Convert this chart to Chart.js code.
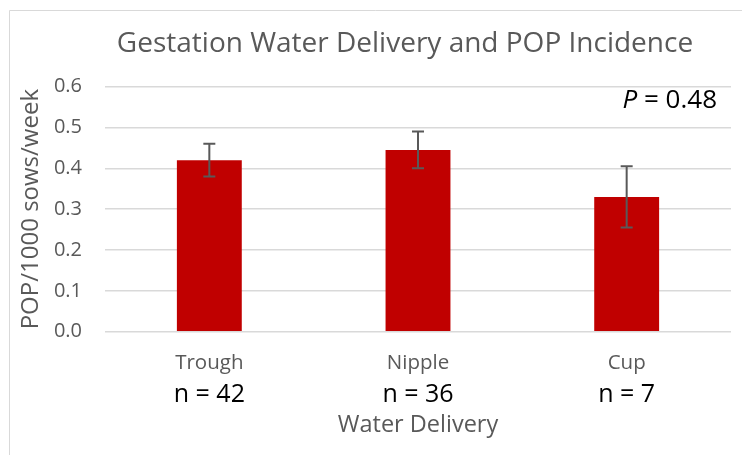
<!DOCTYPE html>
<html>
<head>
<meta charset="utf-8">
<script src="https://cdn.jsdelivr.net/npm/chart.js@4"></script>
<style>
html, body { margin: 0; padding: 0; background: #fff; }
#wrap { width: 742px; height: 455px; position: relative; }
</style>
</head>
<body>
<div id="wrap"><canvas id="myChart"></canvas></div>
<script>
// data
const categories = ["Trough", "Nipple", "Cup"]
const sampleSizes = ["n = 42", "n = 36", "n = 7"]
const popValues = [0.42, 0.445, 0.33]
const popErrors = [0.04, 0.045, 0.075]
const yTicks = [0, 0.1, 0.2, 0.3, 0.4, 0.5, 0.6]
const pValue = "0.48"
const chartTitle = "Gestation Water Delivery and POP Incidence"

const FONT = "'Open Sans', sans-serif"
const GREY = "#595959"
// the exported chart is wider than the crop, its frame starts at x=9
const FRAME_LEFT = 9
const FRAME_WIDTH = 792

// light frame at the top/left like the exported chart
const frame = {
    id: "frame",
    beforeDraw(chart) {
        const c = chart.ctx
        c.save()
        c.fillStyle = "#fff"
        c.fillRect(0, 0, chart.width, chart.height)
        c.strokeStyle = "#d9d9d9"
        c.lineWidth = 1
        c.beginPath()
        c.moveTo(FRAME_LEFT + 0.5, chart.height)
        c.lineTo(FRAME_LEFT + 0.5, 10.5)
        c.lineTo(chart.width, 10.5)
        c.stroke()
        c.restore()
    },
    afterDraw(chart) {
        // title centred on the full (uncropped) chart frame
        const c = chart.ctx
        c.save()
        c.fillStyle = GREY
        c.font = "28px " + FONT
        c.textAlign = "center"
        c.textBaseline = "middle"
        c.fillText(chartTitle, FRAME_LEFT + FRAME_WIDTH / 2, 43.8)
        c.restore()
    }
}

const errorBars = {
    id: "errorBars",
    afterDatasetsDraw(chart) {
        const c = chart.ctx
        const y = chart.scales.y
        const meta = chart.getDatasetMeta(0)
        c.save()
        c.strokeStyle = GREY
        c.lineWidth = 2
        meta.data.forEach((bar, i) => {
            const top = y.getPixelForValue(popValues[i] + popErrors[i])
            const bot = y.getPixelForValue(popValues[i] - popErrors[i])
            c.beginPath()
            c.moveTo(bar.x, top); c.lineTo(bar.x, bot)
            c.moveTo(bar.x - 6, top); c.lineTo(bar.x + 6, top)
            c.moveTo(bar.x - 6, bot); c.lineTo(bar.x + 6, bot)
            c.stroke()
        })
        c.restore()
    }
}

const pLabel = {
    id: "pLabel",
    afterDraw(chart) {
        const c = chart.ctx
        const a = chart.chartArea
        const y = chart.scales.y
        const rest = " = " + pValue
        c.save()
        c.fillStyle = "#000"
        c.textBaseline = "middle"
        c.textAlign = "left"
        c.font = "26px " + FONT
        const w2 = c.measureText(rest).width
        c.font = "italic 26px " + FONT
        const w1 = c.measureText("P").width
        const x = a.right - 14 - w1 - w2
        const ty = y.getPixelForValue(0.565)
        c.fillText("P", x, ty)
        c.font = "26px " + FONT
        c.fillText(rest, x + w1, ty)
        c.restore()
    }
}

var chartField = document.querySelector("#myChart").getContext("2d")

var myChart = new Chart(chartField, {
    type: "bar",
    data: {
        labels: categories,
        datasets: [{
            data: popValues,
            backgroundColor: "#c00000",
            borderWidth: 0,
            barPercentage: 0.311,
            categoryPercentage: 1
        }]
    },
    plugins: [frame, errorBars, pLabel],
    options: {
        responsive: true,
        maintainAspectRatio: false,
        animation: false,
        layout: { padding: { top: 86.6, left: 8, right: 11, bottom: 16 } },
        plugins: {
            legend: { display: false },
            tooltip: { enabled: false },
            title: { display: false }
        },
        scales: {
            x: {
                position: "bottom",
                weight: 0,
                grid: { display: false, drawTicks: false },
                border: { display: false },
                ticks: { color: GREY, font: { family: FONT, size: 20.5 }, padding: 19 },
                afterFit: (scale) => { scale.height = 45.8 }
            },
            x2: {
                type: "category",
                labels: sampleSizes,
                position: "bottom",
                weight: 1,
                offset: true,
                grid: { display: false, drawTicks: false },
                border: { display: false },
                ticks: { color: "#000", font: { family: FONT, size: 25 }, padding: 2 },
                title: {
                    display: true,
                    text: "Water Delivery",
                    color: GREY,
                    font: { family: FONT, size: 23.5 },
                    padding: { top: 0, bottom: 0 }
                },
                afterFit: (scale) => { scale.height = 61.5 }
            },
            y: {
                min: 0,
                max: 0.6,
                afterBuildTicks: (scale) => { scale.ticks = yTicks.map(v => ({ value: v })) },
                afterFit: (scale) => { scale.width = 97 },
                grid: { color: "#d9d9d9", lineWidth: 1.5, drawTicks: false },
                border: { display: false },
                ticks: {
                    color: GREY,
                    font: { family: FONT, size: 20 },
                    padding: 23,
                    callback: (v) => v.toFixed(1)
                },
                title: {
                    display: true,
                    text: "POP/1000 sows/week",
                    color: GREY,
                    font: { family: FONT, size: 24 },
                    padding: { top: 9, bottom: 0 }
                }
            }
        }
    }
});
</script>
</body>
</html>
